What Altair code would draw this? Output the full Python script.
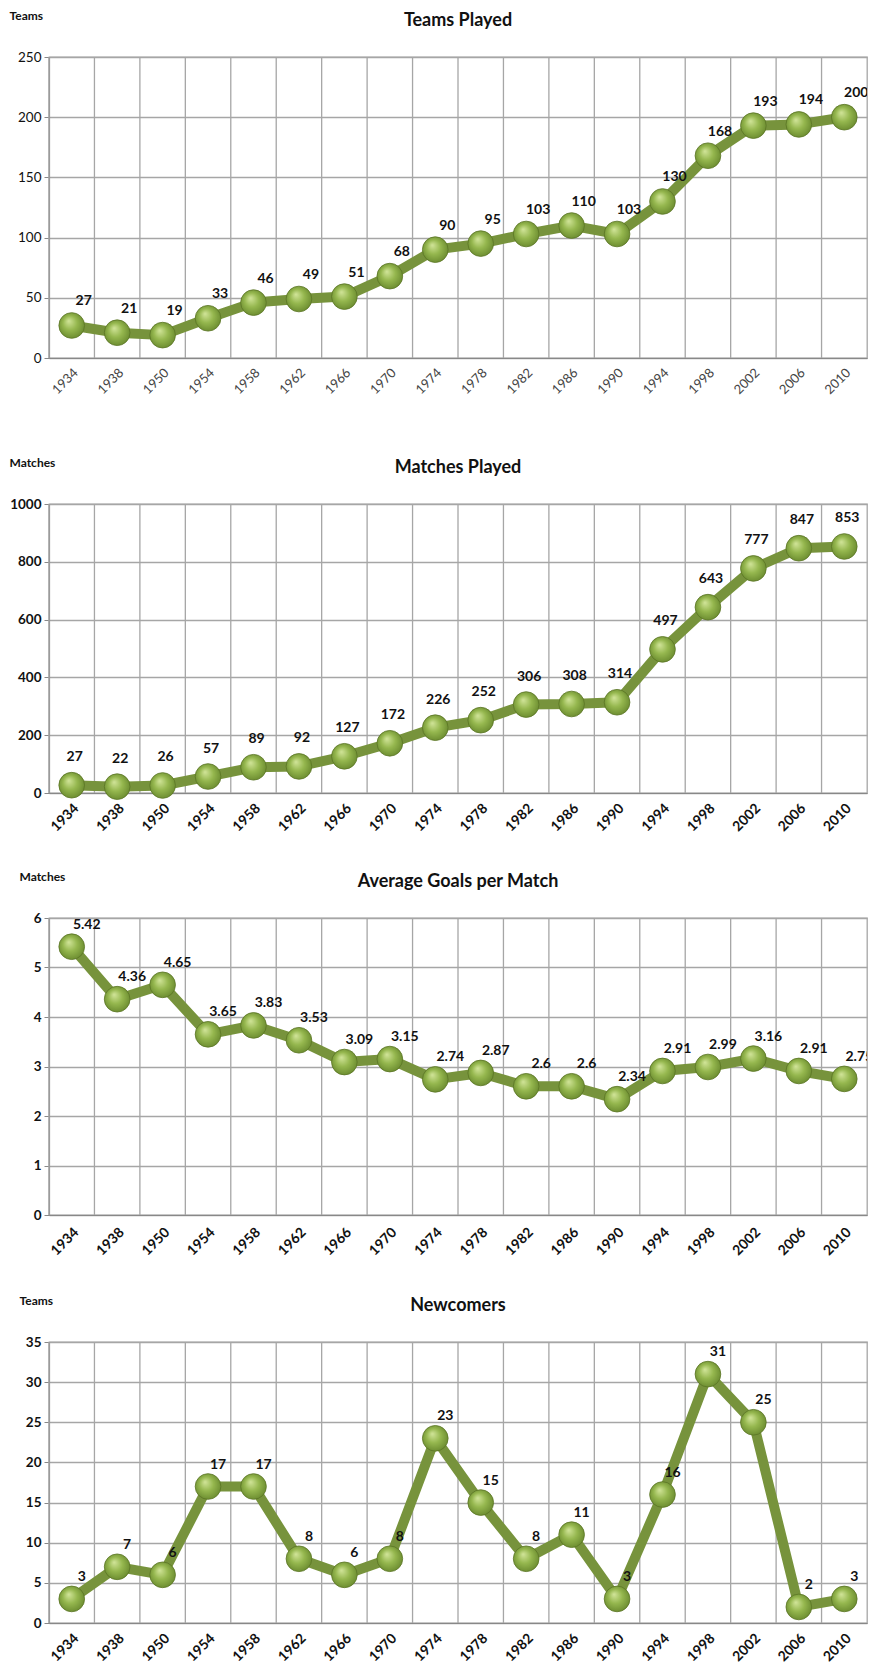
import altair as alt
import pandas as pd

years = ["1934", "1938", "1950", "1954", "1958", "1962", "1966", "1970", "1974",
         "1978", "1982", "1986", "1990", "1994", "1998", "2002", "2006", "2010"]

teams_played = [27, 21, 19, 33, 46, 49, 51, 68, 90, 95, 103, 110, 103, 130, 168, 193, 194, 200]
matches_played = [27, 22, 26, 57, 89, 92, 127, 172, 226, 252, 306, 308, 314, 497, 643, 777, 847, 853]
avg_goals = [5.42, 4.36, 4.65, 3.65, 3.83, 3.53, 3.09, 3.15, 2.74, 2.87, 2.6, 2.6, 2.34, 2.91, 2.99, 3.16, 2.91, 2.75]
avg_goals_labels = ["5.42", "4.36", "4.65", "3.65", "3.83", "3.53", "3.09", "3.15", "2.74", "2.87",
                    "2.6", "2.6", "2.34", "2.91", "2.99", "3.16", "2.91", "2.75"]
newcomers = [3, 7, 6, 17, 17, 8, 6, 8, 23, 15, 8, 11, 3, 16, 31, 25, 2, 3]

FONT = "Lato"
LINE = "#77933c"
GRID = "#a6a6a6"
W = 818

grad = alt.RadialGradient(
    gradient="radial",
    stops=[alt.GradientStop(color="#d2e59a", offset=0),
           alt.GradientStop(color="#95b74e", offset=0.45),
           alt.GradientStop(color="#5f7f27", offset=1)],
    x1=0.38, y1=0.32, r1=0, x2=0.5, y2=0.5, r2=0.62,
)


def panel(values, labels, title, ytitle, domain, ticks, height, dx, dy, bold,
          titleX, labelPad, extra=None):
    df = pd.DataFrame({"year": years, "value": values, "label": labels})
    xkw = dict(labelAngle=-45, labelFont=FONT,
               labelFontSize=14 if bold else 13,
               labelFontWeight="bold" if bold else "normal",
               labelColor="#111" if bold else "#444", ticks=False,
               domainColor="#888", domainWidth=1.2, labelPadding=labelPad)
    if extra:
        xkw.update(title=" ", titleFontSize=12, titlePadding=extra)
    else:
        xkw.update(title=None)
    xaxis = alt.Axis(**xkw)
    yaxis = alt.Axis(values=ticks, format="d", title=ytitle, titleAngle=0, titleX=titleX,
                     titleY=-42, titleAlign="left", titleBaseline="middle", titleFont=FONT,
                     titleFontSize=12, titleFontWeight="bold", titleColor="#111",
                     labelFont=FONT, labelFontSize=13.5,
                     labelFontWeight="bold" if bold else "normal", labelColor="#111",
                     gridColor=GRID, gridWidth=1.3, domainColor="#888", domainWidth=1.2,
                     tickColor="#888", tickSize=5, labelPadding=3)
    xs = alt.Scale(type="band", paddingInner=0, paddingOuter=0)
    ys = alt.Scale(domain=domain, nice=False, zero=True)
    base = alt.Chart(df)
    rules = base.mark_rule(color=GRID, strokeWidth=1.3).encode(
        x=alt.X("year:O", sort=years, bandPosition=0, scale=xs, axis=xaxis),
        y=alt.value(0), y2=alt.value(height))
    line = base.mark_line(color=LINE, strokeWidth=10, strokeJoin="round").encode(
        x=alt.X("year:O", sort=years, bandPosition=0.5, scale=xs, axis=xaxis),
        y=alt.Y("value:Q", scale=ys, axis=yaxis))
    pts = base.mark_circle(size=660, fill=grad, stroke="#5a7524", strokeWidth=0.8, opacity=1).encode(
        x=alt.X("year:O", sort=years, bandPosition=0.5, scale=xs, axis=xaxis),
        y=alt.Y("value:Q", scale=ys, axis=yaxis))
    txt = base.mark_text(dx=dx, dy=dy, font=FONT, fontSize=14, fontWeight="bold",
                         color="#111", clip=True).encode(
        x=alt.X("year:O", sort=years, bandPosition=0.5, scale=xs, axis=xaxis),
        y=alt.Y("value:Q", scale=ys, axis=yaxis),
        text="label:N")
    return alt.layer(rules, line, pts, txt).properties(
        width=W, height=height,
        title=alt.TitleParams(title, font=FONT, fontSize=18, fontWeight="bold",
                              color="#111", anchor="middle", offset=-21))


p1 = panel(teams_played, [str(v) for v in teams_played], "Teams Played", "Teams",
           [0, 250], [0, 50, 100, 150, 200, 250], 301, 12, -24, False, -40, 8, extra=12)
p2 = panel(matches_played, [str(v) for v in matches_played], "Matches Played", "Matches",
           [0, 1000], [0, 200, 400, 600, 800, 1000], 289, 3, -28, True, -40, 8)
p3 = panel(avg_goals, avg_goals_labels, "Average Goals per Match", "Matches",
           [0, 6], [0, 1, 2, 3, 4, 5, 6], 297, 15, -22, True, -30, 10)
p4 = panel(newcomers, [str(v) for v in newcomers], "Newcomers", "Teams",
           [0, 35], [0, 5, 10, 15, 20, 25, 30, 35], 281, 10, -22, True, -30, 8)

chart = alt.vconcat(p1, p2, p3, p4, spacing=34).configure(
    background="white", padding={"left": 0, "top": 0, "right": 0, "bottom": 0}
).configure_view(stroke=GRID, strokeWidth=1.3)

chart.save("out.html", embed_options={"renderer": "svg", "actions": False})
